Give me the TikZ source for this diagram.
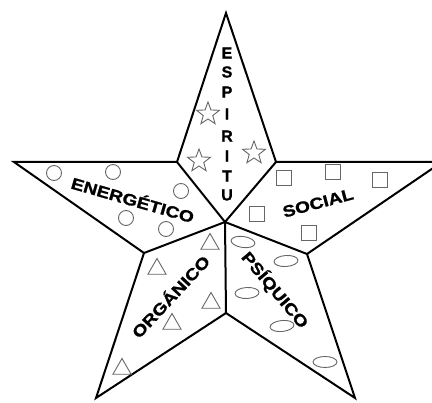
\documentclass[tikz,border=0pt]{standalone}
\usepackage{fontspec}
\setmainfont{Liberation Sans}
\newfontfamily\widefont{Liberation Sans}[FakeStretch=1.2, FakeBold=1.2]
\newfontfamily\letterfont{Liberation Sans}[FakeBold=1.2]
\usetikzlibrary{shapes.geometric}
\begin{document}
\begin{tikzpicture}[x=1pt,y=-1pt,
  outline/.style={line width=2pt, line join=miter},
  symb/.style={draw=black!60, line width=0.9pt, inner sep=0pt, outer sep=0pt},
  starsym/.style={symb, star, star points=5, star point ratio=2.4, minimum size=24pt},
  circsym/.style={symb, circle, minimum size=15pt},
  sqsym/.style={symb, rectangle, minimum size=15pt},
  trisym/.style={symb, regular polygon, regular polygon sides=3, minimum size=21pt},
  ellsym/.style={symb, ellipse, minimum width=24pt, minimum height=11pt},
  word/.style={font=\widefont\bfseries\fontsize{16}{19}\selectfont, inner sep=0pt},
  letter/.style={font=\letterfont\bfseries\fontsize{16}{19}\selectfont, inner sep=0pt}]
\useasboundingbox (0,0) rectangle (432,403);
\clip (0,0) rectangle (432,403);
% star vertices
\coordinate (T) at (226,13);
\coordinate (iTR) at (276,162);
\coordinate (R) at (442,162);
\coordinate (iR) at (307,254);
\coordinate (BR) at (355,398);
\coordinate (iB) at (226,313);
\coordinate (BL) at (96,398);
\coordinate (iL) at (144,253);
\coordinate (L) at (14,162);
\coordinate (iTL) at (177,162);
\coordinate (C) at (225,222);
\draw[outline] (T) -- (iTR) -- (R) -- (iR) -- (BR) -- (iB) -- (BL) -- (iL) -- (L) -- (iTL) -- cycle;
\draw[outline] (C) -- (iTL);
\draw[outline] (C) -- (iTR);
\draw[outline] (C) -- (iL);
\draw[outline] (C) -- (iR);
\draw[outline] (C) -- (iB);
% ESPIRITU
\foreach \ch/\yy [count=\k] in {E/53,S/72,P/92,I/114,R/136,I/156,T/176,U/195}
  \node[letter] (esp\k) at (227,\yy) {\ch};
\node[starsym] (st1) at (208,114) {};
\node[starsym] (st2) at (199,161) {};
\node[starsym] (st3) at (254,153) {};
% ENERGETICO
\node[word, rotate=-16] (energ) at (133,199) {ENERGÉTICO};
\node[circsym] (c1) at (54,173) {};
\node[circsym] (c2) at (113,172) {};
\node[circsym] (c3) at (181,191) {};
\node[circsym] (c4) at (126,218) {};
\node[circsym] (c5) at (166,229) {};
% SOCIAL
\node[word, rotate=15] (social) at (318,203) {SOCIAL};
\node[sqsym] (s1) at (284,178) {};
\node[sqsym] (s2) at (333,172) {};
\node[sqsym] (s3) at (380,180) {};
\node[sqsym] (s4) at (257,214) {};
\node[sqsym] (s5) at (309,233) {};
% ORGANICO
\node[word, rotate=47] (organ) at (170,296) {ORGÁNICO};
\node[trisym] (t1) at (210,244) {};
\node[trisym] (t2) at (157,269) {};
\node[trisym] (t3) at (211,303) {};
\node[trisym] (t4) at (172,324) {};
\node[trisym] (t5) at (122,369) {};
% PSIQUICO
\node[word, rotate=-50] (psiq) at (275,290) {PSÍQUICO};
\node[ellsym, rotate=-8] (e1) at (243,242) {};
\node[ellsym, rotate=4] (e2) at (286,261) {};
\node[ellsym, rotate=3] (e3) at (247,293) {};
\node[ellsym, rotate=6] (e4) at (282,326) {};
\node[ellsym, rotate=0] (e5) at (325,362) {};
\end{tikzpicture}
\end{document}
